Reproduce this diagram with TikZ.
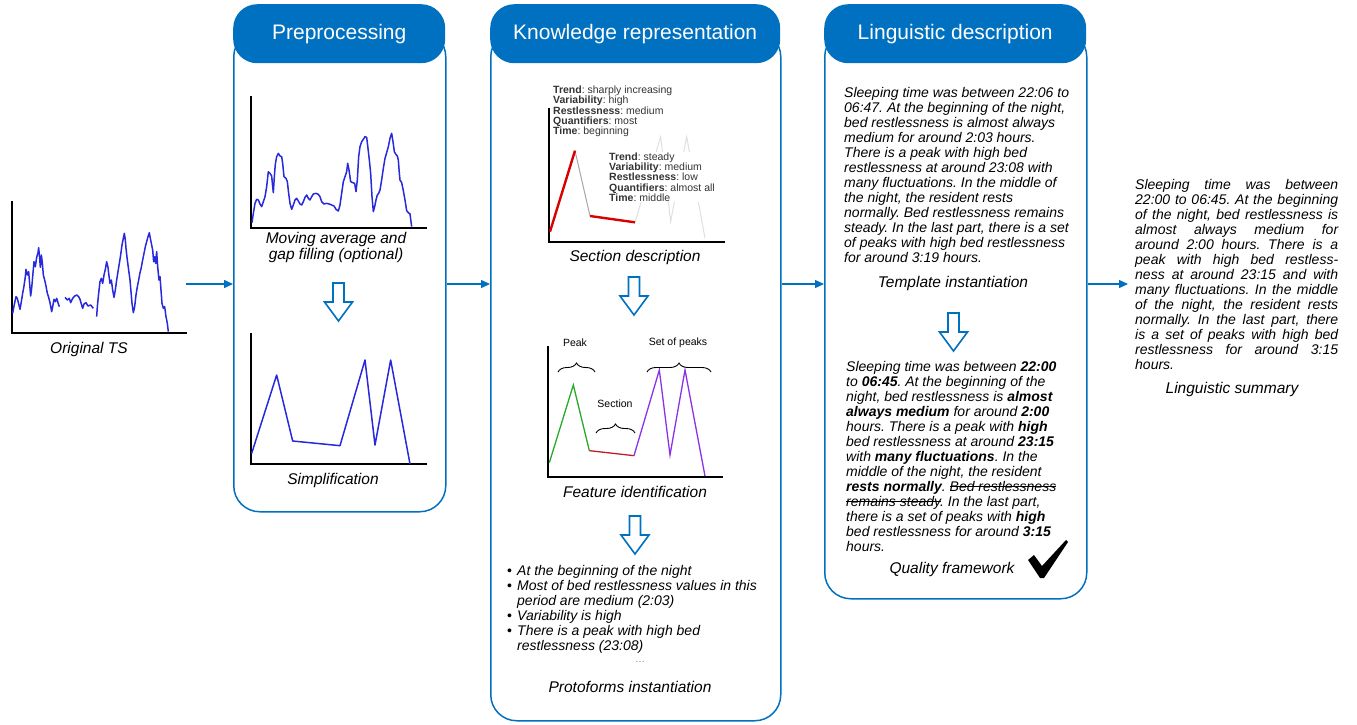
\documentclass[tikz,border=0pt]{standalone}
\usepackage{fontspec}
\setmainfont{Liberation Sans}
\usetikzlibrary{arrows.meta,decorations.pathreplacing}
\definecolor{hdrblue}{RGB}{0,112,192}
\definecolor{tsblue}{RGB}{40,40,220}
\definecolor{peakgreen}{RGB}{40,170,40}
\definecolor{sectred}{RGB}{190,30,40}
\definecolor{setviolet}{RGB}{140,50,230}
\newlength\strikelen
\newcommand\strikeout[1]{\settowidth{\strikelen}{#1}\rlap{\rule[0.28em]{\strikelen}{0.6pt}}#1}
\frenchspacing
\begin{document}
\begin{tikzpicture}[x=1pt, y=-1pt,
  every node/.style={inner sep=0pt},
  panel/.style={draw=hdrblue, line width=1.5pt, rounded corners=26pt, anchor=north west},
  header/.style={fill=hdrblue, rounded corners=24pt, anchor=north west, text=white, font=\fontsize{21}{25}\selectfont},
  caption/.style={font=\fontsize{15.5}{16}\selectfont\itshape, align=center},
  body/.style={font=\fontsize{14}{15}\selectfont\itshape, align=left, anchor=west},
  small/.style={font=\fontsize{10.5}{10.3}\selectfont, align=left, anchor=west},
  axis/.style={line width=2pt},
  series/.style={draw=tsblue, line width=1.5pt, line join=round},
  flow/.style={draw=hdrblue, line width=1.4pt, -{Triangle[length=9pt,width=8pt]}},
  hollow/.style={draw=hdrblue, line width=1.6pt, fill=white},
  brace/.style={decorate, decoration={brace, amplitude=9pt}, line width=0.9pt}]
  \useasboundingbox (0,0) rectangle (1357,724);

  % panels and their tabs
  \node[panel, minimum width=212pt, minimum height=481pt] (prep) at (233,30) {};
  \node[panel, minimum width=290pt, minimum height=690pt] (know) at (490,30) {};
  \node[panel, minimum width=262pt, minimum height=568pt] (ling) at (824,30) {};
  \node[header, minimum width=212pt, minimum height=59pt] (prephd) at (233,4) {Preprocessing};
  \node[header, minimum width=290pt, minimum height=59pt] (knowhd) at (490,4) {Knowledge representation};
  \node[header, minimum width=262pt, minimum height=59pt] (linghd) at (824,4) {Linguistic description};

  % original time series
  \draw[axis] (12,201) -- (12,333) -- (187,333);
  \begin{scope}[shift={(0,180)}, scale=1/3]
    \draw[series] plot coordinates {(38,400) (42,378) (48,350) (52,355) (56,372) (60,388) (64,365) (68,340) (72,318) (76,290) (78,268) (82,285) (86,275) (88,300) (92,348) (95,325) (98,290) (102,245) (106,260) (110,232) (114,218) (116,203) (119,235) (121,262) (124,225) (127,248) (130,285) (134,300) (138,318) (142,340) (146,352) (150,368) (155,395) (158,380) (162,358) (166,365) (170,355) (174,368) (178,380)};
    \draw[series] plot coordinates {(195,352) (202,360) (208,355) (212,368) (218,355) (224,348) (230,345) (236,350) (240,358) (244,372) (248,385) (252,372) (258,368) (264,378) (272,375) (280,385)};
    \draw[series] plot coordinates {(290,410) (292,380) (296,340) (300,305) (304,295) (308,310) (312,285) (316,268) (320,245) (324,262) (326,280) (330,310) (334,300) (338,330) (342,352) (346,330) (350,300) (354,275) (358,250) (362,225) (366,195) (370,175) (373,160) (376,180) (378,205) (382,240) (386,270) (390,300) (393,335) (396,370) (400,398) (404,380) (408,345) (412,320) (416,300) (420,278) (424,262) (428,240) (432,220) (436,200) (440,185) (444,170) (448,158) (451,175) (454,190) (458,210) (461,245) (464,230) (467,250) (470,215) (473,260) (477,300) (480,290) (483,330) (486,370) (490,385) (494,380) (498,410) (502,430) (505,455)};
  \end{scope}
  \node[caption] (origcap) at (89,349) {Original TS};

  % preprocessing
  \draw[axis] (251,96) -- (251,228) -- (427,228);
  \begin{scope}[shift={(230,0)}, scale=1/3]
    \draw[series] plot coordinates {(66,668) (70,640) (75,610) (80,598) (85,600) (90,612) (95,620) (100,605) (105,590) (110,560) (115,515) (120,520) (125,528) (128,560) (130,578) (133,530) (136,492) (140,470) (145,460) (150,468) (155,470) (158,490) (162,530) (168,535) (172,545) (176,580) (180,610) (185,628) (190,615) (195,600) (200,595) (205,603) (210,612) (215,615) (220,605) (225,592) (230,585) (235,595) (240,600) (245,590) (250,582) (258,580) (265,583) (270,590) (275,605) (282,612) (290,610) (298,612) (305,615) (312,618) (318,628) (325,633) (330,615) (335,580) (340,545) (345,530) (350,515) (353,490) (357,510) (362,545) (368,548) (374,550) (378,575) (382,540) (386,470) (390,440) (395,425) (400,418) (405,410) (410,412) (414,445) (418,480) (422,520) (426,590) (430,635) (434,620) (438,600) (442,585) (446,580) (450,570) (455,540) (460,505) (465,475) (470,458) (475,440) (480,415) (485,400) (489,425) (493,455) (497,462) (502,468) (505,480) (508,520) (510,540) (515,548) (520,572) (525,600) (530,632) (535,638) (540,642) (545,680)};
  \end{scope}
  \node[caption] (avgcap) at (336,247) {Moving average and\\gap filling (optional)};
  \draw[axis] (251,333) -- (251,464) -- (427,464);
  \begin{scope}[shift={(230,260)}, scale=1/3]
    \draw[series] plot coordinates {(65,580) (140,345) (188,543) (330,557) (405,300) (435,555) (482,300) (540,612)};
  \end{scope}
  \node[caption] (simcap) at (333,480) {Simplification};

  % knowledge representation: sections
  \draw[axis] (549,108) -- (549,242) -- (725,242);
  \begin{scope}[shift={(490,60)}, scale=1/3]
    \draw[gray!25, line width=1pt] (435,487) -- (512,230) -- (542,485) -- (590,230) -- (645,535);
    \draw[gray!70, line width=1pt] (255,272) -- (300,468);
    \draw[red!85!black, line width=2.4pt] (180,515) -- (255,272);
    \draw[red!85!black, line width=2.4pt] (300,468) -- (435,487);
  \end{scope}
  \node[small, text=black!80] (sect1) at (553,111.5) {\textbf{Trend}: sharply increasing\\\textbf{Variability}: high\\\textbf{Restlessness}: medium\\\textbf{Quantifiers}: most\\\textbf{Time}: beginning};
  \node[small, text=black!80, fill=white, inner sep=1pt] (sect2) at (608,177) {\textbf{Trend}: steady\\\textbf{Variability}: medium\\\textbf{Restlessness}: low\\\textbf{Quantifiers}: almost all\\\textbf{Time}: middle};
  \node[caption] (sectcap) at (635,257) {Section description};

  % knowledge representation: features
  \draw[axis] (548,346) -- (548,477) -- (723,477);
  \begin{scope}[shift={(490,280)}, scale=1/3]
    \draw[peakgreen, line width=1.3pt] (178,548) -- (250,315) -- (298,512);
    \draw[sectred, line width=1.3pt] (298,512) -- (432,527);
    \draw[setviolet, line width=1.3pt] (432,527) -- (508,270) -- (540,525) -- (585,270) -- (645,588);
  \end{scope}
  \draw[brace] (558,372) -- (595,372);
  \draw[brace] (596,433) -- (635,433);
  \draw[brace] (647,372) -- (711,372);
  \node[small, anchor=center] (peaklbl) at (575,343) {Peak};
  \node[small, anchor=center] (sectlbl) at (615,404) {Section};
  \node[small, anchor=center] (setlbl) at (678,343) {Set of peaks};
  \node[caption] (featcap) at (635,492) {Feature identification};

  % knowledge representation: protoforms
  \node[body] (proto) at (507,609.5) {\makebox[10pt][l]{\upshape\textbullet}At the beginning of the night\\
    \makebox[10pt][l]{\upshape\textbullet}Most of bed restlessness values in this\\
    \hspace*{10pt}period are medium (2:03)\\
    \makebox[10pt][l]{\upshape\textbullet}Variability is high\\
    \makebox[10pt][l]{\upshape\textbullet}There is a peak with high bed\\
    \hspace*{10pt}restlessness (23:08)};
  \node[font=\fontsize{10}{12}\selectfont, text=gray] (dots) at (640,662) {\dots};
  \node[caption] (protocap) at (630,687) {Protoforms instantiation};

  % linguistic description
  \node[body] (templ) at (844,174.5) {Sleeping time was between 22:06 to\\
    06:47. At the beginning of the night,\\
    bed restlessness is almost always\\
    medium for around 2:03 hours.\\
    There is a peak with high bed\\
    restlessness at around 23:08 with\\
    many fluctuations. In the middle of\\
    the night, the resident rests\\
    normally. Bed restlessness remains\\
    steady. In the last part, there is a set\\
    of peaks with high bed restlessness\\
    for around 3:19 hours.};
  \node[caption] (templcap) at (953,283) {Template instantiation};
  \node[body] (qual) at (846,456) {Sleeping time was between \textbf{22:00}\\
    to \textbf{06:45}. At the beginning of the\\
    night, bed restlessness is \textbf{almost}\\
    \textbf{always medium} for around \textbf{2:00}\\
    hours. There is a peak with \textbf{high}\\
    bed restlessness at around \textbf{23:15}\\
    with \textbf{many fluctuations}. In the\\
    middle of the night, the resident\\
    \textbf{rests normally}. \strikeout{Bed restlessness}\\
    \strikeout{remains steady}. In the last part,\\
    there is a set of peaks with \textbf{high}\\
    bed restlessness for around \textbf{3:15}\\
    hours.};
  \node[caption] (qualcap) at (952,569) {Quality framework};
  \fill (1028,560) -- (1034,555) -- (1042,566) -- (1066,540) -- (1068,542) -- (1044,578) -- (1040,578) -- cycle;

  % linguistic summary
  \node[body, text width=203pt, align=justify] (sumtxt) at (1135,274) {Sleeping time was between\linebreak
    22:00 to 06:45. At the beginning\linebreak
    of the night, bed restlessness is\linebreak
    almost always medium for\linebreak
    around 2:00 hours. There is a\linebreak
    peak with high bed restless-\linebreak
    ness at around 23:15 and with\linebreak
    many fluctuations. In the middle\linebreak
    of the night, the resident rests\linebreak
    normally. In the last part, there\linebreak
    is a set of peaks with high bed\linebreak
    restlessness for around 3:15\linebreak
    hours.};
  \node[caption] (sumcap) at (1232,389) {Linguistic summary};

  % hollow step arrows
  \foreach \ax/\ay in {338.5/283, 634/277, 635/516, 953.5/313} {
    \draw[hollow] (\ax,\ay) ++(-5.5,0) -- ++(11,0) -- ++(0,19) -- ++(8.5,0) -- ++(-14,19) -- ++(-14,-19) -- ++(8.5,0) -- cycle;
  }

  % flow between stages
  \coordinate (tsend) at (186,284);
  \coordinate (sumin) at ([xshift=-7pt]sumtxt.west);
  \draw[flow] (tsend) -- (tsend -| prep.west);
  \draw[flow] (prep.east |- tsend) -- (know.west |- tsend);
  \draw[flow] (know.east |- tsend) -- (ling.west |- tsend);
  \draw[flow] (ling.east |- tsend) -- (sumin |- tsend);
\end{tikzpicture}
\end{document}
